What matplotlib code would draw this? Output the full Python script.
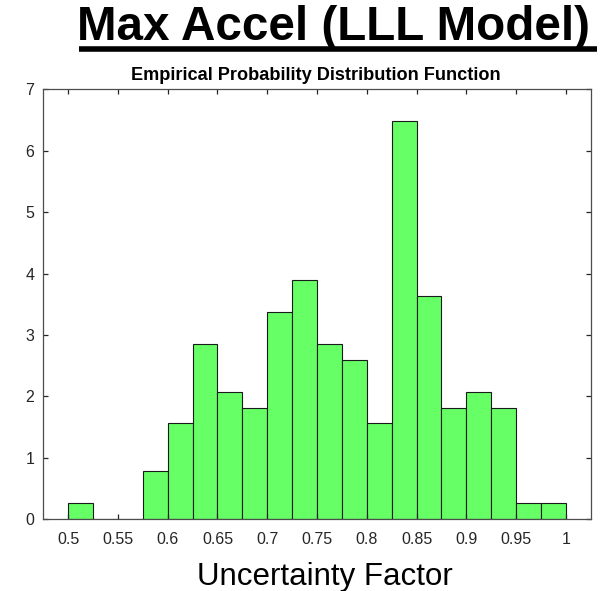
import matplotlib
matplotlib.use("Agg")
import matplotlib.pyplot as plt
from matplotlib.lines import Line2D
import numpy as np

plt.rcParams['font.family'] = ['Liberation Sans', 'DejaVu Sans']

# Histogram bins (left edges) and normalized heights (pdf)
bin_edges = [0.500, 0.525, 0.550, 0.575, 0.600, 0.625, 0.650, 0.675, 0.700, 0.725,
             0.750, 0.775, 0.800, 0.825, 0.850, 0.875, 0.900, 0.925, 0.950, 0.975, 1.000]
pdf_values = [0.26, 0.00, 0.00, 0.78, 1.56, 2.86, 2.08, 1.82, 3.38, 3.90,
              2.86, 2.60, 1.56, 6.49, 3.64, 1.82, 2.08, 1.82, 0.26, 0.26]
x_ticks = [0.5, 0.55, 0.6, 0.65, 0.7, 0.75, 0.8, 0.85, 0.9, 0.95, 1.0]
x_tick_labels = ['0.5', '0.55', '0.6', '0.65', '0.7', '0.75', '0.8', '0.85', '0.9', '0.95', '1']
y_ticks = [0, 1, 2, 3, 4, 5, 6, 7]

fig = plt.figure(figsize=(6, 5.91), dpi=100)
ax = fig.add_axes([0.0722, 0.1213, 0.9123, 0.7276])

edges = np.array(bin_edges)
ax.bar(edges[:-1], pdf_values, width=np.diff(edges), align='edge',
       color='#66ff66', edgecolor='#1a1a1a', linewidth=0.8)

ax.set_xlim(0.475, 1.025)
ax.set_ylim(0, 7)
ax.set_xticks(x_ticks)
ax.set_xticklabels(x_tick_labels)
ax.set_yticks(y_ticks)

axis_color = '#262626'
for s in ax.spines.values():
    s.set_color('#4d4d4d')
    s.set_linewidth(0.9)
ax.tick_params(direction='in', top=True, right=True, length=3.8, width=0.9,
               color=axis_color, labelcolor=axis_color, labelsize=11.5)
ax.tick_params(axis='x', pad=9)
ax.tick_params(axis='y', pad=6.5)

# Headline with a thick underline
fig.text(590 / 600, 1 - 39.5 / 591, 'Max Accel (LLL Model)', ha='right', va='baseline',
         fontsize=34.3, fontweight='bold', color='black')
fig.add_artist(Line2D([79 / 600, 597 / 600], [1 - 49 / 591, 1 - 49 / 591],
                      transform=fig.transFigure, color='black', linewidth=4.0,
                      solid_capstyle='butt'))

fig.text(316 / 600, 1 - 79.5 / 591, 'Empirical Probability Distribution Function',
         ha='center', va='baseline', fontsize=13.1, fontweight='bold', color='black')

fig.text(325 / 600, 1 - 585 / 591, 'Uncertainty Factor', ha='center', va='baseline',
         fontsize=22.5, color='black')

fig.savefig('out.png', dpi=100)
